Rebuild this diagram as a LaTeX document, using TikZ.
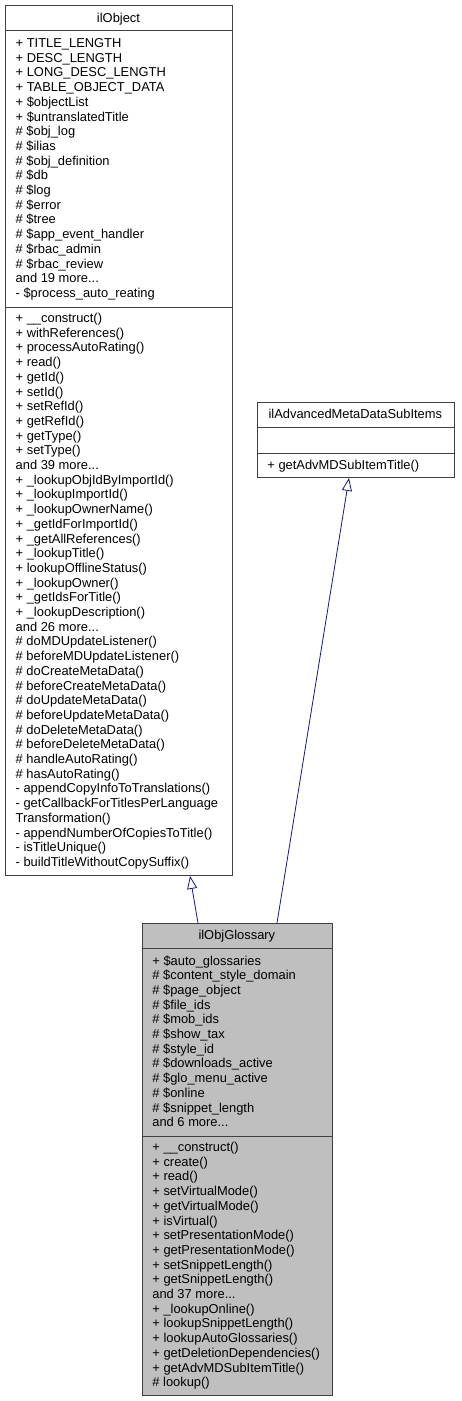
\documentclass[tikz,border=0pt]{standalone}
\usepackage{fontspec}
\setmainfont{Liberation Sans}
\usetikzlibrary{arrows.meta,calc}
\newcommand\mydots{...}
\definecolor{bordercol}{RGB}{64,64,64}
\definecolor{edgecol}{RGB}{25,25,112}
\definecolor{glossfill}{RGB}{191,191,191}
\tikzset{
  classbox/.style={draw=bordercol, line width=0.9pt, rectangle, inner sep=0pt, anchor=north west},
  sepline/.style={draw=bordercol, line width=0.9pt},
  txt/.style={anchor=base west, inner sep=0pt, font=\fontsize{12.9}{14.7}\selectfont, text=black},
  ttl/.style={anchor=base, inner sep=0pt, font=\fontsize{12.9}{14.7}\selectfont, text=black},
  inherit/.style={draw=edgecol, line width=0.8pt, -{Triangle[length=13pt,width=10pt,fill=white]}},
}
\begin{document}
\begin{tikzpicture}[x=1pt,y=-1pt]
\useasboundingbox (0,0) rectangle (461,1401);
\fill[white] (0,0) rectangle (461,1401);

% ilObject
\node[classbox, minimum width=227pt, minimum height=870pt] (ilObject) at (5,5) {};
\draw[sepline] (5,30.5) -- (232,30.5);
\draw[sepline] (5,307) -- (232,307);
\node[ttl] (ilObjectTitle) at (118.5,22.5) {ilObject};
\foreach \t [count=\i] in {
+ TITLE\_LENGTH,
+ DESC\_LENGTH,
+ LONG\_DESC\_LENGTH,
+ TABLE\_OBJECT\_DATA,
+ \$objectList,
+ \$untranslatedTitle,
\# \$obj\_log,
\# \$ilias,
\# \$obj\_definition,
\# \$db,
\# \$log,
\# \$error,
\# \$tree,
\# \$app\_event\_handler,
\# \$rbac\_admin,
\# \$rbac\_review,
and 19 more\mydots,
- \$process\_auto\_reating}
  \node[txt] (oa\i) at (15.5,{43+(\i-1)*14.7+4.5}) {\t};
\foreach \t [count=\i] in {
+ \_\_construct(),
+ withReferences(),
+ processAutoRating(),
+ read(),
+ getId(),
+ setId(),
+ setRefId(),
+ getRefId(),
+ getType(),
+ setType(),
and 39 more\mydots,
+ \_lookupObjIdByImportId(),
+ \_lookupImportId(),
+ \_lookupOwnerName(),
+ \_getIdForImportId(),
+ \_getAllReferences(),
+ \_lookupTitle(),
+ lookupOfflineStatus(),
+ \_lookupOwner(),
+ \_getIdsForTitle(),
+ \_lookupDescription(),
and 26 more\mydots,
\# doMDUpdateListener(),
\# beforeMDUpdateListener(),
\# doCreateMetaData(),
\# beforeCreateMetaData(),
\# doUpdateMetaData(),
\# beforeUpdateMetaData(),
\# doDeleteMetaData(),
\# beforeDeleteMetaData(),
\# handleAutoRating(),
\# hasAutoRating(),
- appendCopyInfoToTranslations(),
- getCallbackForTitlesPerLanguage,
Transformation(),
- appendNumberOfCopiesToTitle(),
- isTitleUnique(),
- buildTitleWithoutCopySuffix()}
  \node[txt] (om\i) at (15.5,{318+(\i-1)*14.7+4.5}) {\t};

% ilAdvancedMetaDataSubItems
\node[classbox, minimum width=197.3pt, minimum height=75pt] (ilAdv) at (256.7,402) {};
\draw[sepline] (256.7,427) -- (454,427);
\draw[sepline] (256.7,453) -- (454,453);
\node[ttl] (ilAdvTitle) at (355.35,418) {ilAdvancedMetaDataSubItems};
\node[txt] (am1) at (267.2,469.5) {+ getAdvMDSubItemTitle()};

% ilObjGlossary
\node[classbox, fill=glossfill, minimum width=190.3pt, minimum height=472pt] (ilObjGlossary) at (141.7,923) {};
\draw[sepline] (141.7,948) -- (332,948);
\draw[sepline] (141.7,1136) -- (332,1136);
\node[ttl] (glossTitle) at (236.85,939.5) {ilObjGlossary};
\foreach \t [count=\i] in {
+ \$auto\_glossaries,
\# \$content\_style\_domain,
\# \$page\_object,
\# \$file\_ids,
\# \$mob\_ids,
\# \$show\_tax,
\# \$style\_id,
\# \$downloads\_active,
\# \$glo\_menu\_active,
\# \$online,
\# \$snippet\_length,
and 6 more\mydots}
  \node[txt] (ga\i) at (152.2,{960.5+(\i-1)*14.7+4.5}) {\t};
\foreach \t [count=\i] in {
+ \_\_construct(),
+ create(),
+ read(),
+ setVirtualMode(),
+ getVirtualMode(),
+ isVirtual(),
+ setPresentationMode(),
+ getPresentationMode(),
+ setSnippetLength(),
+ getSnippetLength(),
and 37 more\mydots,
+ \_lookupOnline(),
+ lookupSnippetLength(),
+ lookupAutoGlossaries(),
+ getDeletionDependencies(),
+ getAdvMDSubItemTitle(),
\# lookup()}
  \node[txt] (gm\i) at (152.2,{1147+(\i-1)*14.7+4.5}) {\t};

% inheritance edges
\draw[inherit] ($(ilObjGlossary.north west)+(56.3,0)$) -- ($(ilObject.south west)+(185,0)$);
\draw[inherit] ($(ilObjGlossary.north west)+(135.3,0)$) -- ($(ilAdv.south west)+(92.3,0)$);
\end{tikzpicture}
\end{document}
